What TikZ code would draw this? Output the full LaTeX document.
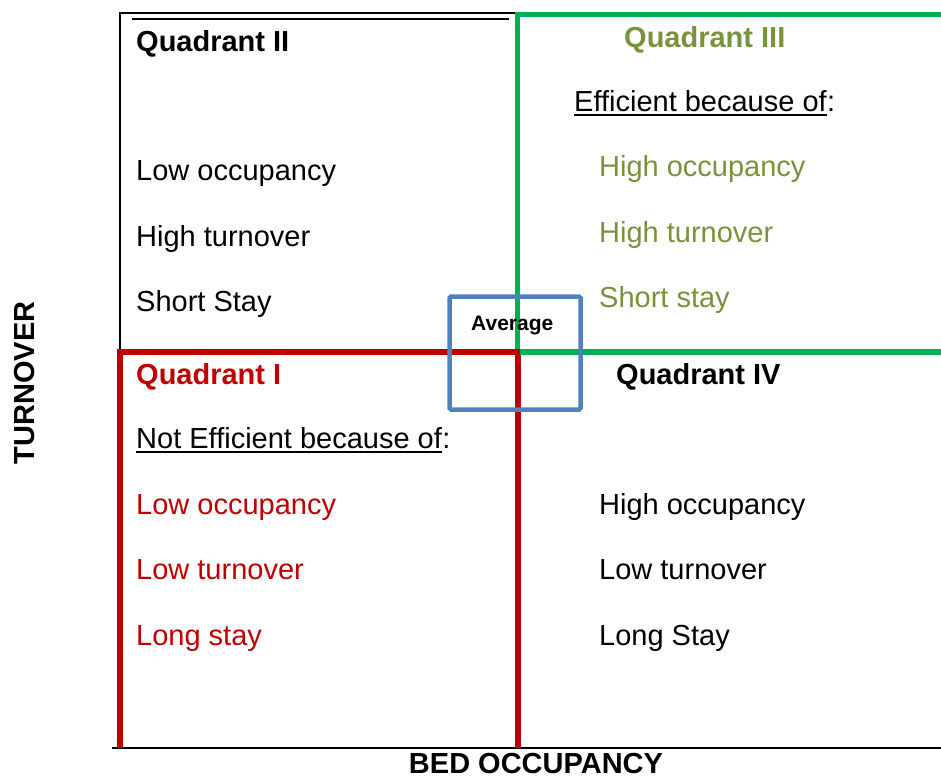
\documentclass[tikz,border=0pt]{standalone}
\usepackage{fontspec}
\setmainfont{Liberation Sans}
\usetikzlibrary{positioning}
\definecolor{qgreen}{RGB}{0,176,80}
\definecolor{qolive}{RGB}{119,147,60}
\definecolor{qred}{RGB}{192,0,0}
\definecolor{qblue}{RGB}{79,129,189}

\begin{document}
\begin{tikzpicture}[x=1pt, y=-1pt,
  txt/.style={anchor=base west, inner sep=0pt, font=\fontsize{29}{34}\selectfont},
  head/.style={txt, font=\fontsize{29}{34}\selectfont\bfseries},
  uline/.style={line width=2pt}]
  \useasboundingbox (0,0) rectangle (941,778);
  % frame and axis
  \draw[line width=2pt] (120,351) -- (120,13) -- (517,13);
  \draw[line width=1.5pt] (132,19) -- (509,19);
  \draw[line width=2.5pt] (112,748) -- (941,748);
  % quadrant boxes
  \draw[qred, line width=5.5pt] (120,748) -- (120,352) -- (518,352) -- (518,748);
  \draw[qgreen, line width=5pt] (517,349) -- (517,15) -- (941,15);
  \draw[qgreen, line width=5.5pt] (520,352) -- (941,352);
  \draw[qblue, line width=4.5pt, rounded corners=1.5pt] (449.5,296.5) rectangle (580.5,409.5);
  \node[txt, font=\fontsize{21}{25}\selectfont\bfseries] (avg) at (471,330) {Average};
  % quadrant II
  \node[head] (q2head) at (136,52) {Quadrant II};
  \node[txt] (q2a) at (136,180) {Low occupancy};
  \node[txt] (q2b) at (136,246) {High turnover};
  \node[txt] (q2c) at (136,311) {Short Stay};
  % quadrant III
  \node[head, text=qolive] (q3head) at (624,48) {Quadrant III};
  \node[txt] (q3why) at (574,112) {Efficient because of};
  \node[txt] (q3colon) at (q3why.base east) {:};
  \draw[uline] ([yshift=-3.5pt]q3why.base west) -- ([yshift=-3.5pt]q3why.base east);
  \node[txt, text=qolive] (q3a) at (599,176) {High occupancy};
  \node[txt, text=qolive] (q3b) at (599,242) {High turnover};
  \node[txt, text=qolive] (q3c) at (599,307) {Short stay};
  % quadrant I
  \node[head, text=qred] (q1head) at (136,384) {Quadrant I};
  \node[txt] (q1why) at (136,448) {Not Efficient because of};
  \node[txt] (q1colon) at (q1why.base east) {:};
  \draw[uline] ([yshift=-3.5pt]q1why.base west) -- ([yshift=-3.5pt]q1why.base east);
  \node[txt, text=qred] (q1a) at (136,514) {Low occupancy};
  \node[txt, text=qred] (q1b) at (136,579) {Low turnover};
  \node[txt, text=qred] (q1c) at (136,645) {Long stay};
  % quadrant IV
  \node[head] (q4head) at (616,384) {Quadrant IV};
  \node[txt] (q4a) at (599,514) {High occupancy};
  \node[txt] (q4b) at (599,579) {Low turnover};
  \node[txt] (q4c) at (599,645) {Long Stay};
  % axis labels
  \node[head, anchor=center] (xlab) at (536,763.5) {BED OCCUPANCY};
  \node[head, anchor=center, rotate=90] (ylab) at (25,383) {TURNOVER};
\end{tikzpicture}
\end{document}
